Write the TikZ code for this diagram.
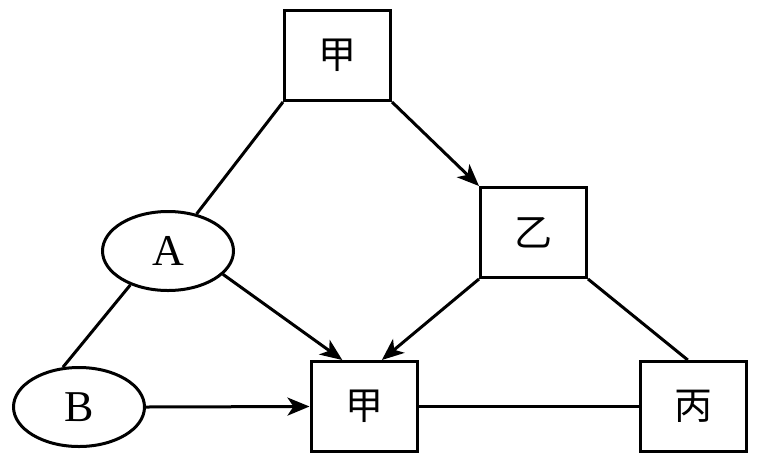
\documentclass[tikz,border=0pt]{standalone}
\usepackage{fontspec}
\setmainfont{Liberation Serif}
\newfontfamily\cjk{Noto Sans CJK SC}
\usetikzlibrary{arrows.meta,shapes.geometric}

\begin{document}
\begin{tikzpicture}[
    x=1pt, y=-1pt,
    box/.style={rectangle, draw=black, line width=3pt, minimum width=106pt, minimum height=90pt, inner sep=0pt, font=\cjk\fontsize{38}{38}\selectfont},
    oval/.style={ellipse, draw=black, line width=3pt, minimum width=131pt, minimum height=79pt, inner sep=0pt, font=\fontsize{44}{44}\selectfont},
    link/.style={line width=3pt},
    arrow/.style={-{Stealth[length=22pt, width=18pt, inset=6pt]}, line width=3pt}
]
\useasboundingbox (0,0) rectangle (760,459);
\node[box] (topjia) at (337.5,55.5) {甲};
\node[box] (yi) at (533.5,232.5) {乙};
\node[box] (botjia) at (364,406.5) {甲};
\node[box] (bing) at (693.5,406.5) {丙};
\node[oval] (nodeA) at (168,251) {A};
\node[oval] (nodeB) at (79,407) {B};

\draw[link] (topjia.south west) -- (nodeA);
\draw[arrow] (topjia.south east) -- (yi.north west);
\draw[link] (nodeA.222) -- (nodeB.112);
\draw[arrow] (nodeA.-23) -- (botjia.115);
\draw[arrow] (yi.south west) -- (botjia.69);
\draw[link] (yi.south east) -- (bing.97);
\draw[arrow] (nodeB.east) -- (botjia.west);
\draw[link] (botjia.east) -- (bing.west);
\end{tikzpicture}
\end{document}
